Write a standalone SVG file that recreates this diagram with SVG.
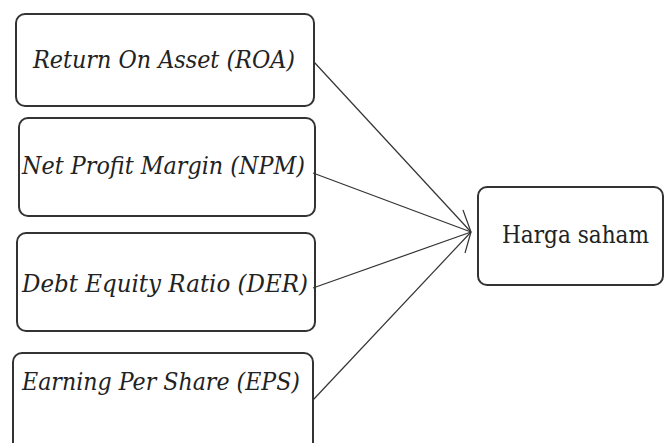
<svg xmlns="http://www.w3.org/2000/svg" width="664" height="443" viewBox="0 0 664 443">
<style>
.box{fill:#fff;stroke:#333;stroke-width:2}
.t{font-family:'DejaVu Serif',serif;font-style:italic;font-size:24px;fill:#222}
.h{font-family:'DejaVu Serif',serif;font-size:24px;fill:#222}
.ln{stroke:#333;stroke-width:1.2;fill:none}
</style>
<rect width="664" height="443" fill="#fff"/>
<g id="roa"><rect class="box" x="16" y="14" width="298" height="92" rx="9"/><text class="t" x="33" y="68" textLength="262" lengthAdjust="spacingAndGlyphs">Return On Asset (ROA)</text></g>
<g id="npm"><rect class="box" x="19" y="118" width="296" height="98" rx="9"/><text class="t" x="22" y="174" textLength="283" lengthAdjust="spacingAndGlyphs">Net Profit Margin (NPM)</text></g>
<g id="der"><rect class="box" x="17" y="233" width="298" height="98" rx="9"/><text class="t" x="22" y="292" textLength="286" lengthAdjust="spacingAndGlyphs">Debt Equity Ratio (DER)</text></g>
<g id="eps"><rect class="box" x="13" y="353" width="300" height="110" rx="9"/><text class="t" x="22" y="390" textLength="278" lengthAdjust="spacingAndGlyphs">Earning Per Share (EPS)</text></g>
<g id="harga"><rect class="box" x="478" y="187" width="185" height="98" rx="9"/><text class="h" x="502" y="243" textLength="147" lengthAdjust="spacingAndGlyphs">Harga saham</text></g>
<g id="connectors">
<line class="ln" x1="314" y1="62" x2="471" y2="232"/>
<line class="ln" x1="313" y1="173" x2="471" y2="232"/>
<line class="ln" x1="313" y1="288" x2="471" y2="232"/>
<line class="ln" x1="313" y1="400" x2="471" y2="232"/>
<polyline class="ln" points="463,210 471,232 465,253"/>
</g>
</svg>
